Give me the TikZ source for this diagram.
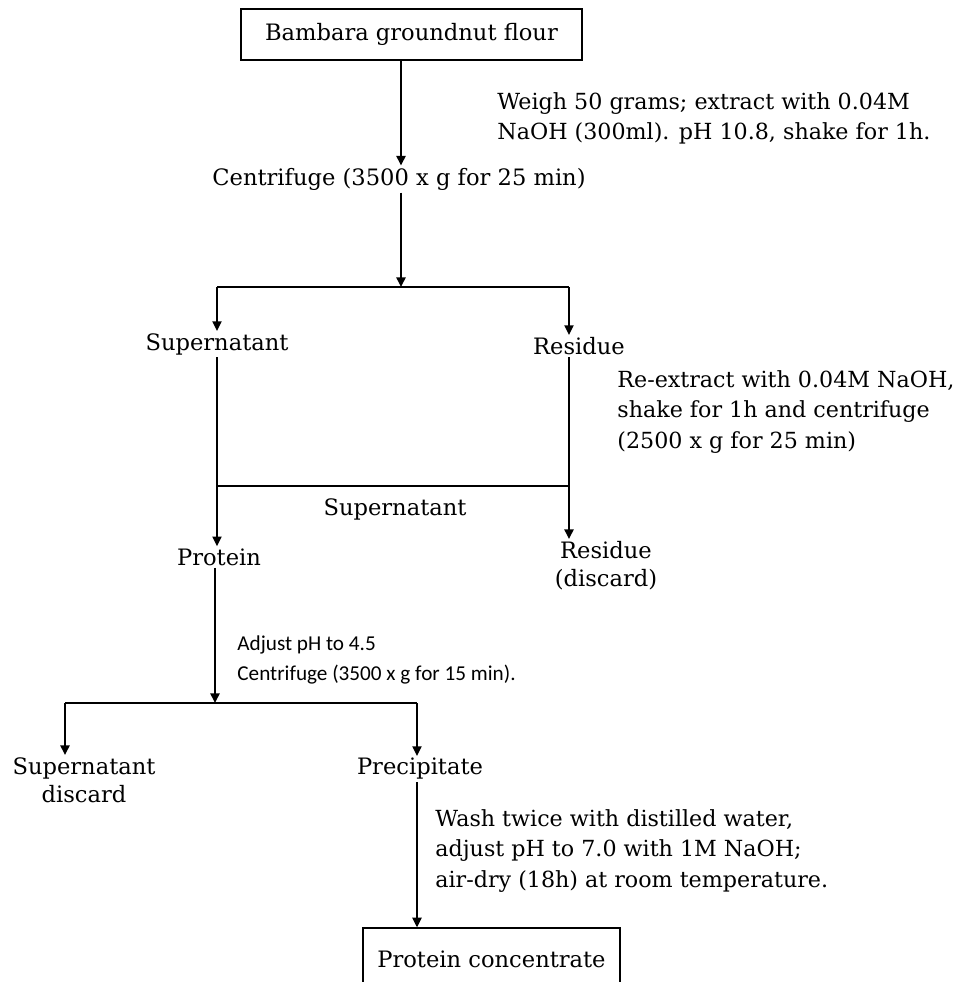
\documentclass[tikz,border=0pt]{standalone}
\usepackage{fontspec}
\setmainfont{DejaVu Serif}
\newfontfamily\calib{Carlito}
\usepackage{tikz}
\usetikzlibrary{arrows.meta, positioning, calc}

\begin{document}
\begin{tikzpicture}[
  x=0.5pt, y=-0.5pt,
  box/.style={rectangle, draw, line width=0.7pt, minimum width=170.5pt,
    minimum height=25.5pt, font=\fontsize{11.3}{14}\selectfont},
  lbl/.style={inner sep=1pt, font=\fontsize{11.3}{14}\selectfont, align=center},
  note/.style={inner sep=0pt, font=\fontsize{11.1}{15.2}\selectfont, align=left},
  cnote/.style={inner sep=0pt, font=\calib\fontsize{10.6}{15}\selectfont, align=left},
  ln/.style={line width=0.75pt},
  arr/.style={ln, -{Triangle[width=4.6pt, length=4.8pt]}},
]
  \useasboundingbox (0,0) rectangle (960,982);

  \node[box] (flour) at (411.5,34.5) {Bambara groundnut flour};
  \node[note, anchor=north west] (weigh) at (497,92)
    {Weigh 50 grams; extract with 0.04M\\NaOH (300ml). pH 10.8, shake for 1h.};
  \node[lbl] (cent1) at (399,179) {Centrifuge (3500 x g for 25 min)};

  \coordinate (s1) at (401,287);
  \coordinate (s1l) at (217,287);
  \coordinate (s1r) at (569,287);

  \node[lbl] (sup1) at (217,344) {Supernatant};
  \node[lbl] (res1) at (579,346) {Residue};
  \node[note, anchor=north west] (reext) at (617,370)
    {Re-extract with 0.04M NaOH,\\shake for 1h and centrifuge\\(2500 x g for 25 min)};

  \coordinate (j1) at (568,486);
  \node[lbl] (sup2) at (395,509) {Supernatant};
  \node[lbl] (prot) at (219,557) {Protein};
  \node[lbl, anchor=north] (res2) at (606,539) {Residue\\(discard)};

  \node[cnote, anchor=north west] (adj) at (237,635)
    {Adjust pH to 4.5\\Centrifuge (3500 x g for 15 min).};
  \coordinate (s2) at (215,703);
  \coordinate (s2l) at (65,703);
  \coordinate (s2r) at (417,703);

  \node[lbl, anchor=north] (supd) at (84,755) {Supernatant\\discard};
  \node[lbl] (prec) at (420,769) {Precipitate};
  \node[note, anchor=north west] (wash) at (435,809)
    {Wash twice with distilled water,\\adjust pH to 7.0 with 1M NaOH;\\air-dry (18h) at room temperature.};
  \node[box, minimum width=128.5pt, minimum height=31pt] (conc) at (491.5,959)
    {Protein concentrate};

  \draw[arr] (flour.south -| s1) -- (s1 |- cent1.north);
  \draw[arr] (s1 |- cent1.south) -- (s1);
  \draw[ln] (s1l) -- (s1r);
  \draw[arr] (s1l) -- (sup1.north);
  \draw[arr] (s1r) -- (s1r |- res1.north);
  \draw[arr] (sup1.south) -- (sup1.south |- prot.north);
  \draw[arr] (res1.south -| s1r) -- (s1r |- res2.north);
  \draw[ln] (j1) -- (j1 -| sup1.south);
  \draw[arr] (prot.south -| s2) -- (s2);
  \draw[ln] (s2l) -- (s2r);
  \draw[arr] (s2l) -- (s2l |- supd.north);
  \draw[arr] (s2r) -- (s2r |- prec.north);
  \draw[arr] (prec.south -| s2r) -- (s2r |- conc.north);
\end{tikzpicture}
\end{document}
